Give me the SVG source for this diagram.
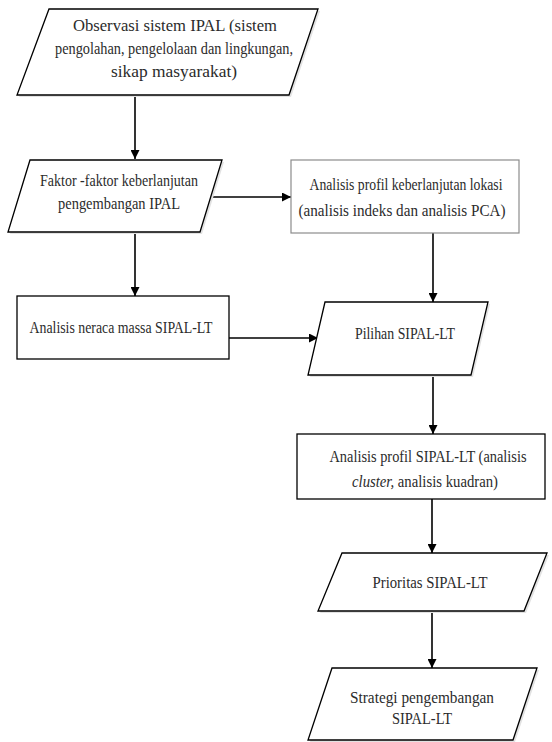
<svg xmlns="http://www.w3.org/2000/svg" width="552" height="742" viewBox="0 0 552 742">
  <style>
    .shape { fill: #ffffff; stroke: #000000; stroke-width: 1.3; }
    .shape-soft { fill: #ffffff; stroke: #8c8c8c; stroke-width: 1.2; }
    .shade { fill: #e2e2e2; stroke: none; }
    .label { font-family: "Liberation Serif", "DejaVu Serif", serif; font-size: 17px; fill: #2b2b2b; text-anchor: middle; }
    .small { font-size: 16px; }
    .flow { fill: none; stroke: #000000; stroke-width: 1.6; marker-end: url(#head); }
  </style>
  <defs>
    <marker id="head" viewBox="0 0 10 10" refX="10" refY="5" markerWidth="9" markerHeight="9" markerUnits="userSpaceOnUse" orient="auto">
      <path d="M0,0 L10,5 L0,10 Z" fill="#000000"/>
    </marker>
  </defs>

  <!-- connectors -->
  <g id="connectors">
    <line class="flow" x1="135" y1="95" x2="135" y2="159"/>
    <line class="flow" x1="211" y1="197" x2="291" y2="197"/>
    <line class="flow" x1="135" y1="232" x2="135" y2="296"/>
    <line class="flow" x1="433" y1="233" x2="433" y2="302"/>
    <line class="flow" x1="229" y1="338" x2="318" y2="338"/>
    <line class="flow" x1="433" y1="375" x2="433" y2="434"/>
    <line class="flow" x1="432" y1="499" x2="432" y2="553"/>
    <line class="flow" x1="432" y1="611" x2="432" y2="668"/>
  </g>

  <!-- observation of the treatment system -->
  <g id="observasi">
    <polygon class="shade" points="51,11 320,11 291,97 19,97"/>
    <polygon class="shape" points="49,9 318,9 289,95 17,95"/>
    <text class="label" x="175" y="31" textLength="204" lengthAdjust="spacingAndGlyphs">Observasi sistem IPAL (sistem</text>
    <text class="label" x="174" y="54" textLength="238" lengthAdjust="spacingAndGlyphs">pengolahan, pengelolaan dan lingkungan,</text>
    <text class="label" x="174" y="77" textLength="126" lengthAdjust="spacingAndGlyphs">sikap masyarakat)</text>
  </g>

  <!-- sustainability factors -->
  <g id="faktor">
    <polygon class="shade" points="32,162 224,162 202,234 10,234"/>
    <polygon class="shape" points="30,160 222,160 200,232 8,232"/>
    <text class="label" x="119" y="186" textLength="158" lengthAdjust="spacingAndGlyphs">Faktor -faktor keberlanjutan</text>
    <text class="label" x="119" y="209" textLength="122" lengthAdjust="spacingAndGlyphs">pengembangan  IPAL</text>
  </g>

  <!-- location sustainability profile -->
  <g id="profil-lokasi">
    <rect class="shape-soft" x="291" y="160" width="228" height="73"/>
    <text class="label" x="406" y="190" textLength="193" lengthAdjust="spacingAndGlyphs">Analisis  profil keberlanjutan lokasi</text>
    <text class="label" x="402" y="216" textLength="207" lengthAdjust="spacingAndGlyphs">(analisis indeks dan analisis  PCA)</text>
  </g>

  <!-- mass balance analysis -->
  <g id="neraca-massa">
    <rect class="shape" x="17" y="296" width="212" height="63"/>
    <text class="label" x="121" y="333" textLength="183" lengthAdjust="spacingAndGlyphs">Analisis neraca massa SIPAL-LT</text>
  </g>

  <!-- options -->
  <g id="pilihan">
    <polygon class="shade" points="327,304 490,304 473,377 310,377"/>
    <polygon class="shape" points="325,302 488,302 471,375 308,375"/>
    <text class="label" x="405" y="339" textLength="100" lengthAdjust="spacingAndGlyphs">Pilihan SIPAL-LT</text>
  </g>

  <!-- SIPAL-LT profile -->
  <g id="profil-sipal">
    <rect class="shape" x="297" y="434" width="248" height="65"/>
    <text class="label small" x="428" y="462" textLength="197" lengthAdjust="spacingAndGlyphs">Analisis profil SIPAL-LT (analisis</text>
    <text class="label small" x="425" y="487" textLength="146" lengthAdjust="spacingAndGlyphs"><tspan font-style="italic">cluster,</tspan> analisis kuadran)</text>
  </g>

  <!-- priorities -->
  <g id="prioritas">
    <polygon class="shade" points="344,555 549,555 526,613 320,613"/>
    <polygon class="shape" points="342,553 547,553 524,611 318,611"/>
    <text class="label" x="430" y="588" textLength="115" lengthAdjust="spacingAndGlyphs">Prioritas  SIPAL-LT</text>
  </g>

  <!-- development strategy -->
  <g id="strategi">
    <polygon class="shade" points="334,670 539,670 515,742 310,742"/>
    <polygon class="shape" points="332,668 537,668 513,740 308,740"/>
    <text class="label" x="422" y="703" textLength="144" lengthAdjust="spacingAndGlyphs">Strategi pengembangan</text>
    <text class="label" x="422" y="724" textLength="60" lengthAdjust="spacingAndGlyphs">SIPAL-LT</text>
  </g>
</svg>
